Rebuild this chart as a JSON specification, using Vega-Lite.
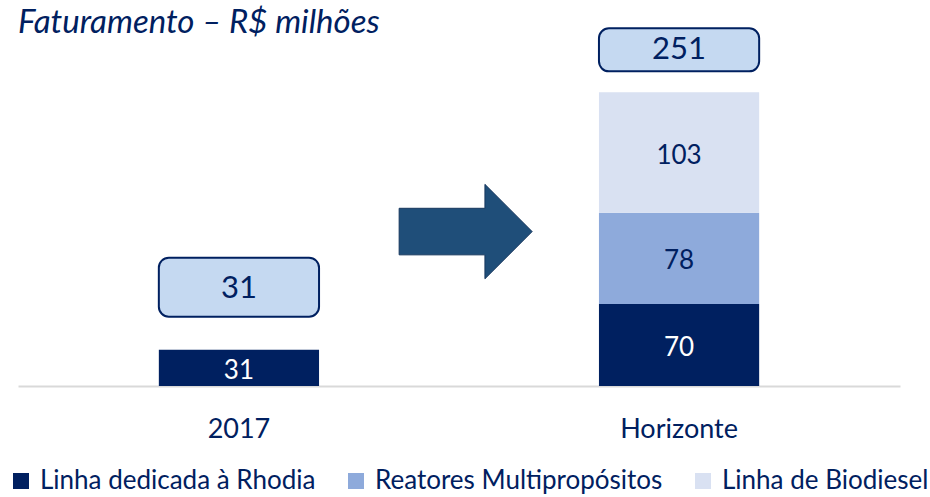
{
  "$schema": "https://vega.github.io/schema/vega-lite/v6.json",
  "width": 882,
  "height": 336,
  "autosize": "none",
  "padding": {"left": 18, "top": 50, "right": 30, "bottom": 111},
  "background": "white",
  "title": {
    "text": "Faturamento – R$ milhões",
    "anchor": "start",
    "frame": "group",
    "fontSize": 33,
    "fontStyle": "italic",
    "fontWeight": "normal",
    "font": "Lato",
    "color": "#002060",
    "offset": -13
  },
  "datasets": {
    "bars": [
      {"cat": "2017", "serie": "Linha dedicada à Rhodia", "v": 31, "ord": 1},
      {"cat": "Horizonte", "serie": "Linha dedicada à Rhodia", "v": 70, "ord": 1},
      {"cat": "Horizonte", "serie": "Reatores Multipropósitos", "v": 78, "ord": 2},
      {"cat": "Horizonte", "serie": "Linha de Biodiesel", "v": 103, "ord": 3}
    ],
    "totals": [
      {"cat": "2017", "total": 31},
      {"cat": "Horizonte", "total": 251}
    ],
    "arrow": [{"a": 1}]
  },
  "layer": [
    {
      "layer": [
        {
          "data": {"name": "bars"},
          "mark": {"type": "bar"},
          "encoding": {
            "x": {
              "field": "cat",
              "type": "nominal",
              "sort": ["2017", "Horizonte"],
              "scale": {"paddingInner": 0.636, "paddingOuter": 0.32},
              "axis": {
                "title": null,
                "labelAngle": 0,
                "ticks": false,
                "domainColor": "#d9d9d9",
                "domainWidth": 2,
                "labelFontSize": 27,
                "labelFont": "Lato",
                "labelColor": "#002060",
                "labelPadding": 30
              }
            },
            "y": {
              "field": "v",
              "type": "quantitative",
              "stack": "zero",
              "scale": {"domain": [0, 287.2], "nice": false, "zero": true},
              "axis": null
            },
            "color": {
              "field": "serie",
              "type": "nominal",
              "scale": {
                "domain": ["Linha dedicada à Rhodia", "Reatores Multipropósitos", "Linha de Biodiesel"],
                "range": ["#002060", "#8eaadb", "#d9e1f2"]
              },
              "legend": {
                "title": null,
                "orient": "none",
                "direction": "horizontal",
                "legendX": -10,
                "legendY": 418,
                "symbolType": "square",
                "symbolSize": 256,
                "symbolStrokeWidth": 0,
                "labelFontSize": 26,
                "labelFont": "Lato",
                "labelColor": "#002060",
                "labelOffset": 6,
                "columnPadding": 27,
                "padding": 0,
                "labelLimit": 400
              }
            },
            "order": {"field": "ord", "type": "quantitative"}
          }
        },
        {
          "data": {"name": "bars"},
          "transform": [
            {"stack": "v", "groupby": ["cat"], "sort": [{"field": "ord"}], "as": ["v0", "v1"]},
            {"calculate": "(datum.v0 + datum.v1) / 2", "as": "mid"}
          ],
          "mark": {"type": "text", "fontSize": 26, "font": "Lato", "baseline": "middle", "align": "center", "dy": 3},
          "encoding": {
            "x": {"field": "cat", "type": "nominal", "sort": ["2017", "Horizonte"]},
            "y": {"field": "mid", "type": "quantitative"},
            "text": {"field": "v", "type": "quantitative"},
            "color": {
              "condition": {"test": "datum.serie === 'Linha dedicada à Rhodia'", "value": "white"},
              "value": "#002060"
            }
          }
        },
        {
          "data": {"name": "totals"},
          "transform": [{"filter": "datum.cat === '2017'"}],
          "mark": {"type": "rect", "fill": "#c5d9f1", "stroke": "#002060", "strokeWidth": 2, "cornerRadius": 10, "yOffset": -92, "y2Offset": -33},
          "encoding": {
            "x": {"field": "cat", "type": "nominal", "sort": ["2017", "Horizonte"]},
            "y": {"field": "total", "type": "quantitative"},
            "y2": {"field": "total"}
          }
        },
        {
          "data": {"name": "totals"},
          "transform": [{"filter": "datum.cat === '2017'"}],
          "mark": {"type": "text", "fontSize": 31, "font": "Lato", "color": "#002060", "baseline": "middle", "yOffset": -61},
          "encoding": {
            "x": {"field": "cat", "type": "nominal", "sort": ["2017", "Horizonte"]},
            "y": {"field": "total", "type": "quantitative"},
            "text": {"field": "total", "type": "quantitative"}
          }
        },
        {
          "data": {"name": "totals"},
          "transform": [{"filter": "datum.cat === 'Horizonte'"}],
          "mark": {"type": "rect", "fill": "#c5d9f1", "stroke": "#002060", "strokeWidth": 2, "cornerRadius": 10, "yOffset": -64, "y2Offset": -21},
          "encoding": {
            "x": {"field": "cat", "type": "nominal", "sort": ["2017", "Horizonte"]},
            "y": {"field": "total", "type": "quantitative"},
            "y2": {"field": "total"}
          }
        },
        {
          "data": {"name": "totals"},
          "transform": [{"filter": "datum.cat === 'Horizonte'"}],
          "mark": {"type": "text", "fontSize": 31, "font": "Lato", "color": "#002060", "baseline": "middle", "yOffset": -42},
          "encoding": {
            "x": {"field": "cat", "type": "nominal", "sort": ["2017", "Horizonte"]},
            "y": {"field": "total", "type": "quantitative"},
            "text": {"field": "total", "type": "quantitative"}
          }
        }
      ]
    },
    {
      "data": {"name": "arrow"},
      "mark": {
        "type": "point",
        "shape": "M -0.9 -0.35 L 0.39 -0.35 L 0.39 -0.71 L 1.1 0 L 0.39 0.71 L 0.39 0.35 L -0.9 0.35 Z",
        "filled": true,
        "size": 17689,
        "fill": "#1f4e79",
        "stroke": "#17375e",
        "strokeWidth": 1,
        "opacity": 1
      },
      "encoding": {
        "x": {"datum": 0.5, "type": "quantitative", "scale": {"domain": [0, 1]}, "axis": null},
        "y": {"datum": 132, "type": "quantitative"}
      }
    }
  ],
  "resolve": {"scale": {"x": "independent"}},
  "config": {
    "view": {"stroke": null},
    "font": "Lato"
  }
}
